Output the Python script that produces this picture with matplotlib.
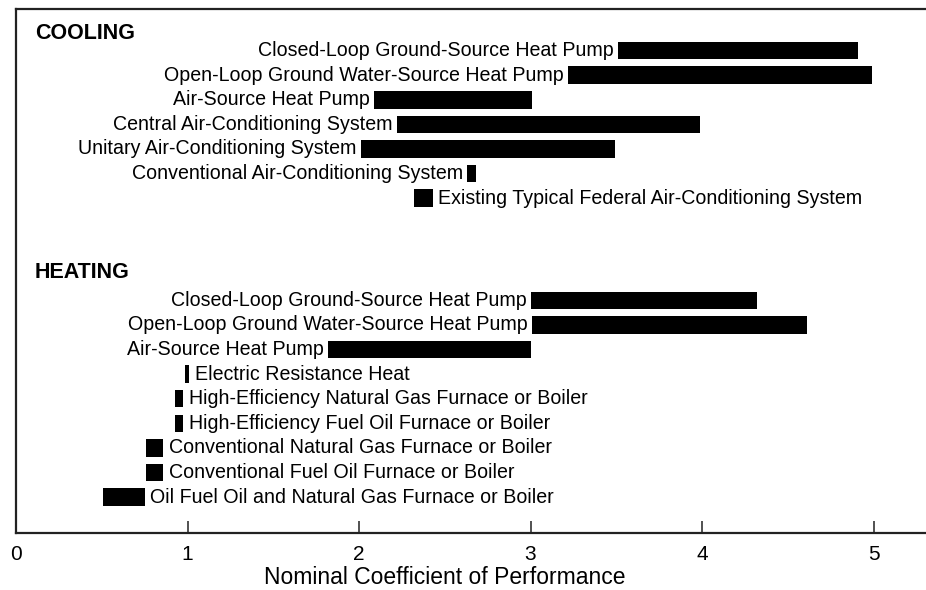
import matplotlib
matplotlib.use("Agg")
import matplotlib.pyplot as plt
import numpy as np

# data (nominal COP ranges)
cooling_names = ["Closed-Loop Ground-Source Heat Pump",
                 "Open-Loop Ground Water-Source Heat Pump",
                 "Air-Source Heat Pump",
                 "Central Air-Conditioning System",
                 "Unitary Air-Conditioning System",
                 "Conventional Air-Conditioning System",
                 "Existing Typical Federal Air-Conditioning System"]
cooling_low = [3.51, 3.22, 2.09, 2.22, 2.01, 2.63, 2.32]
cooling_high = [4.91, 4.99, 3.01, 3.99, 3.49, 2.68, 2.43]
cooling_side = ["left", "left", "left", "left", "left", "left", "right"]

heating_names = ["Closed-Loop Ground-Source Heat Pump",
                 "Open-Loop Ground Water-Source Heat Pump",
                 "Air-Source Heat Pump",
                 "Electric Resistance Heat",
                 "High-Efficiency Natural Gas Furnace or Boiler",
                 "High-Efficiency Fuel Oil Furnace or Boiler",
                 "Conventional Natural Gas Furnace or Boiler",
                 "Conventional Fuel Oil Furnace or Boiler",
                 "Oil Fuel Oil and Natural Gas Furnace or Boiler"]
heating_low = [3.00, 3.01, 1.82, 0.985, 0.93, 0.93, 0.76, 0.76, 0.51]
heating_high = [4.32, 4.61, 3.00, 1.01, 0.975, 0.975, 0.86, 0.86, 0.75]
heating_side = ["left", "left", "left", "right", "right", "right", "right", "right", "right"]

xticks = [0, 1, 2, 3, 4, 5]

plt.rcParams['font.family'] = ['Liberation Sans', 'DejaVu Sans']

fig = plt.figure(figsize=(9.26, 5.90), dpi=100)
ax = fig.add_axes([16/926, 57/590, 910/926, 524/590])

cool_y = np.arange(len(cooling_names))
heat_y = np.arange(len(heating_names)) + 10.15

def draw_group(names, low, high, side, ys):
    low = np.array(low)
    high = np.array(high)
    ax.barh(ys, high - low, left=low, height=0.71, color="black", edgecolor="none")
    for n, lo, hi, s, y in zip(names, low, high, side, ys):
        if s == "left":
            ax.annotate(n, (lo, y), xytext=(-3, 0), textcoords="offset points",
                        ha="right", va="center", fontsize=14.1)
        else:
            ax.annotate(n, (hi, y), xytext=(4, 0), textcoords="offset points",
                        ha="left", va="center", fontsize=14.1)

draw_group(cooling_names, cooling_low, cooling_high, cooling_side, cool_y)
draw_group(heating_names, heating_low, heating_high, heating_side, heat_y)

ax.text(0.11, -0.71, "COOLING", ha="left", va="center", fontsize=15.5, fontweight="bold")
ax.text(0.11, 9.04, "HEATING", ha="left", va="center", fontsize=15.5, fontweight="bold")

ax.set_xlim(0, 910/171.5)
ax.set_ylim(19.61, -1.69)
ax.set_yticks([])
ax.set_xticks(xticks)
ax.set_xticklabels([str(t) for t in xticks], fontsize=15)
ax.tick_params(axis="x", direction="in", length=9, width=1.1, pad=9, color="#222222")
ax.spines["right"].set_visible(False)
for sp in ["left", "top", "bottom"]:
    ax.spines[sp].set_linewidth(1.6)
    ax.spines[sp].set_color("#222222")

fig.text(445/926, 1 - 577/590, "Nominal Coefficient of Performance",
         ha="center", va="center", fontsize=16.5)

fig.savefig("out.png", dpi=100)
